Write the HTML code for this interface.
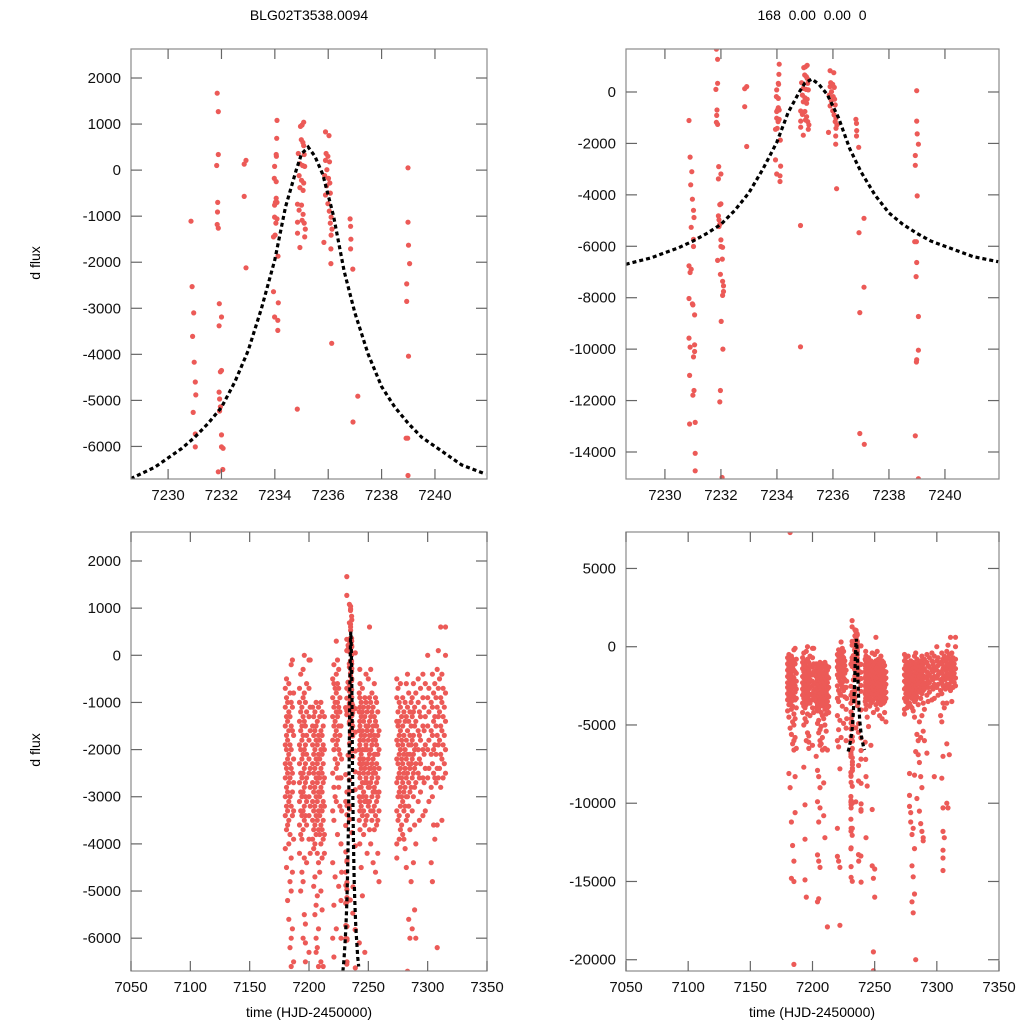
<!DOCTYPE html>
<html><head><meta charset="utf-8">
<style>
html,body{margin:0;padding:0;background:#fff;}
svg{display:block;font-family:"Liberation Sans",Arial,sans-serif;}
</style></head>
<body>
<svg id="chart" width="1024" height="1024" viewBox="0 0 1024 1024" xmlns="http://www.w3.org/2000/svg">
<rect width="1024" height="1024" fill="#fff"/>
<text x="309" y="20" font-size="14" text-anchor="middle">BLG02T3538.0094</text>
<text x="812" y="20" font-size="14" text-anchor="middle" xml:space="preserve">168  0.00  0.00  0</text>
<text x="0" y="0" font-size="14" text-anchor="middle" transform="translate(40,263) rotate(-90)">d flux</text>
<text x="0" y="0" font-size="14" text-anchor="middle" transform="translate(40,750) rotate(-90)">d flux</text>
<text x="309" y="1017" font-size="14" text-anchor="middle">time (HJD-2450000)</text>
<text x="812" y="1017" font-size="14" text-anchor="middle">time (HJD-2450000)</text>
</svg>
<script>
// ---- detailed observations near peak (time, flux) ----
const detT = [7230.86,7230.90,7230.96,7230.92,7230.98,7231.02,7231.04,7230.94,7231.02,7231.02,7230.86,7230.94,7230.90,7230.86,7230.98,7231.00,7231.06,7230.86,7230.90,7231.06,7231.06,7231.02,7230.88,7231.04,7231.00,7230.88,7231.08,7231.08,7231.08,
7231.84,7231.88,7231.88,7231.82,7231.86,7231.85,7231.84,7231.88,7231.92,7231.91,7232.00,7232.00,7231.96,7231.91,7231.93,7231.96,7231.93,7232.00,7232.00,7232.06,7232.05,7231.88,7231.98,7232.06,7232.09,7232.09,7232.06,7232.01,7232.07,7231.98,7231.96,7232.04,
7232.85,7232.92,7232.85,7232.92,
7234.08,7234.07,7234.05,7234.06,7233.99,7233.98,7234.05,7234.05,7234.02,7233.99,7234.08,7233.99,7234.08,7234.04,7233.95,7234.01,7234.12,7233.95,7233.99,7234.11,7234.11,7234.13,
7235.02,7235.08,7234.96,7234.99,7235.05,7235.08,7234.88,7235.10,7234.94,7235.04,7235.12,7234.91,7235.00,7235.08,7234.94,7235.06,7234.85,7235.00,7234.91,7235.06,7235.02,7234.85,7235.10,7235.14,7234.85,7235.12,7234.94,7234.84,7234.84,
7235.90,7236.03,7235.92,7235.99,7235.90,7236.05,7235.95,7235.87,7236.01,7235.94,7236.06,7236.08,7235.90,7235.99,7236.04,7236.11,7236.08,7236.14,7236.11,7235.84,7236.10,7236.10,7236.13,
7236.82,7236.84,7236.85,7236.84,7236.92,7236.93,7237.11,7237.11,7236.96,7236.96,7237.12,
7238.99,7238.99,7239.01,7239.05,7238.94,7238.94,7239.01,7238.92,7238.98,7238.99,7238.97,7239.05,7239.05,7238.99,7238.98,7238.94,7239.05];
const detV = [-1110,-2530,-3100,-3610,-4170,-4600,-4880,-5260,-5730,-6010,-6760,-6890,-7020,-8030,-8240,-8280,-8670,-9570,-9920,-9830,-10090,-10300,-11020,-11610,-11790,-12910,-12850,-14050,-14730,
1670,1270,340,100,-700,-910,-1180,-1260,-2900,-3380,-3190,-4350,-4380,-4820,-4970,-5140,-5230,-5750,-6010,-6040,-6500,-6550,-7090,-7360,-7540,-7760,-7910,-8920,-10000,-11610,-12050,-14990,
130,210,-570,-2120,
1080,690,340,300,80,-180,-250,-610,-700,-760,-700,-1020,-1060,-1150,-1450,-1410,-1870,-2640,-3190,-3260,-3480,-2880,
980,1040,950,660,600,530,360,340,140,100,80,-120,-220,-280,-380,-440,-740,-760,-870,-960,-1090,-1130,-1150,-1280,-1370,-1450,-1680,-5190,-9910,
830,750,360,300,210,180,10,-120,-180,-340,-280,-500,-540,-730,-890,-1020,-1150,-1280,-1410,-1570,-1710,-2030,-3760,
-1060,-1220,-1500,-1710,-2150,-5470,-4910,-7590,-8580,-13280,-13700,
50,-1130,-1630,-2030,-2470,-2850,-4040,-5820,-5820,-6630,-7180,-8730,-10040,-10410,-10500,-13370,-15040];

// ---- full-season observations, per night (night time, flux values) ----
const nightT = [7180,7181,7182,7183,7184,7185,7186,7187,
7192,7193,7194,7195,7196,7197,7198,7200,7201,
7203,7204,7205,7206,7207,7208,7209,7210,7211,7212,7213,
7220,7221,7222,7223,7224,7225,7226,7227,7227.5,
7242.4,7242.8,7243,7244,7245,7246,7247,7248,7249,7250,7251,7252,7253,7254,7255,7256,7257,7258,7259,
7274,7275,7276,7277,7278,7279,7280,7281,7282,7283,7284,7285,7286,7287,7288,7289,7290,7292,7293,7294,7296,7297,7298,7300,7301,7303,7304,7305,7306,7307,7308,7309,7310,7311,7312,7313,7314,7315];
const nightV = [
[-700,-1100,-1500,-1900,-2300,-2600,-3000,-3400,-4100],
[-500,-900,-1300,-1700,-2000,-2400,-2800,-3200,-3700,-4500,-8100],
[-1000,-1400,-1800,-2200,-2500,-2900,-3300,-3600,-5200,-9000,7300],
[-600,-1200,-1600,-2100,-2700,-3100,-3500,-4000,-5600,-11200,-14800],
[-800,-1300,-1900,-2300,-2600,-3000,-3800,-4800,-6200,-12700],
[-200,-1000,-1500,-2000,-2400,-3200,-4300,-5000,-6000,-6600,-13700,-15000,-20300],
[-100,-1100,-1600,-2500,-2900,-3400,-4600,-5800,-8300,-10600],
[-800,-1700,-2200,-2700,-3300,-3900,-6500],
[-700,-1000,-1400,-1900,-2300,-2700,-3100,-3600,-4200],
[-400,-1200,-1600,-2000,-2500,-2900,-3300,-3800,-5000,-7700],
[-1100,-1500,-1800,-2200,-2600,-3000,-3400,-3900,-4600,-10100,-12300,-14900],
[-300,-900,-1300,-1700,-2100,-2500,-2900,-3300,-3700,-4800,-6000,-16000],
[0,-800,-1400,-2000,-2400,-2800,-3200,-3500,-4300,-5500],
[-1000,-1500,-1900,-2300,-2700,-3000,-3400,-5700,-6100,-6500],
[-600,-1200,-1700,-2100,-2600,-3100,-3600,-4400],
[-100,-700,-1300,-1800,-2200,-2500,-3000,-3400,-3900,-6300],
[-100,-1100,-1600,-2400,-2800,-3200,-4200],
[-1100,-1500,-1900,-2300,-2700,-3100,-3500,-3900,-7000],
[-1300,-1700,-2100,-2500,-2900,-3300,-3700,-4100,-4900,-7900,-9900,-13300,-16300],
[-1200,-1600,-2000,-2400,-2800,-3200,-3600,-4000,-4700,-5500,-8300,-11200,-13700,-16100],
[-1000,-1500,-1800,-2200,-2600,-3000,-3400,-3800,-5300,-6000,-9000,-10300,-14100,-6300],
[-1400,-1900,-2300,-2700,-3100,-3500,-4200,-5100,-6200],
[-1100,-1700,-2100,-2500,-2900,-3300,-3700,-4400,-5800,-6600],
[-1300,-1800,-2200,-2600,-3000,-3400,-3800,-4600,-8700,-10800],
[-1000,-1600,-2000,-2400,-2800,-3200,-3600,-4000,-5000,-6500,-12200],
[-1200,-1700,-2100,-2500,-2900,-3300,-3700,-4300,-5400],
[-1500,-1900,-2300,-2700,-3100,-3500,-3900,-6600,-17900],
[-1300,-2000,-2600,-3200,-3800,-4200],
[-500,-900,-1300,-1800,-2500,-3300,-4400,-6000,-11600,-13400],
[-200,-600,-1100,-1500,-2000,-2800,-3500,-5300,-13700,-6400],
[-700,-1000,-1400,-1700,-2200,-3000,-4700,-7800,-14100,-17800],
[300,-400,-800,-1200,-1600,-1900,-2400,-3100,-5800],
[-100,-600,-1000,-1300,-1800,-2300,-2600,-3800],
[-300,-700,-1100,-1500,-2000,-2800,-4900],
[-900,-1200,-1700,-2100,-2600,-3200],
[-1500,-2600,-4000,-5200,-6000],
[-2200,-3300,-4600],
[-800,-1200,-1600,-2000,-2500,-3000,-3500,-6100],
[-300,-900,-1400,-1900,-2300,-2800,-3300,-4000,-7200],
[-600,-1100,-1500,-1800,-2200,-2600,-3100,-3700,-8300,-12200],
[-1000,-1300,-1700,-2100,-2400,-2800,-3200,-4500,-8900],
[-700,-1200,-1600,-2000,-2300,-2700,-3000,-3400,-5100],
[-1100,-1400,-1800,-2200,-2500,-2900,-3300,-3800],
[-900,-1300,-1700,-2000,-2400,-2700,-3100,-3600,-6300],
[-400,-1000,-1500,-1900,-2300,-2600,-3000,-3500,-10400,-14000],
[-1200,-1600,-2000,-2300,-2700,-3100,-3400,-4200,-14800,-19500,-20700],
[-500,-1100,-1500,-1800,-2200,-2500,-2800,-3200,-16000,-14200],
[600,-900,-1400,-1700,-2100,-2400,-2800,-3100,-3700],
[-300,-1000,-1300,-1700,-2000,-2400,-2700,-3300,-4000],
[-800,-1200,-1600,-1900,-2300,-2600,-3000,-3500],
[-1100,-1500,-1800,-2200,-2500,-2900,-3300,-4400],
[-600,-1300,-1700,-2100,-2400,-2800,-3200,-3700],
[-900,-1400,-1800,-2100,-2500,-2900,-3400,-4600],
[-1000,-1500,-1900,-2300,-2700,-3100,-3600],
[-1200,-1700,-2100,-2600,-3000,-3500,-4200],
[-1600,-2000,-2400,-2900,-3300,-4800],
[-500,-900,-1400,-1800,-2200,-2700,-3300,-4000,-4300],
[-700,-1200,-1500,-1900,-2300,-2600,-3000,-3500],
[-1000,-1400,-1700,-2100,-2500,-2900,-3400,-3900],
[-600,-1100,-1600,-2000,-2400,-2800,-3200,-3700],
[-1300,-1800,-2200,-2600,-3000,-3600,-8100,-9500,-10200],
[-900,-1500,-1900,-2300,-2700,-3100,-3800,-10600,-11200],
[-1200,-1700,-2100,-2500,-2900,-3300,-3900,-12000,-14000,-16300],
[-1000,-1400,-2000,-2400,-2800,-3200,-4100,-11600,-14700,-17000],
[-600,-1300,-1800,-2200,-2600,-3000,-3500,-4500,-8200,-12900,-15800],
[-400,-1100,-1600,-2100,-2500,-3000,-3400,-20000,-6700],
[-800,-1400,-1900,-2300,-2700,-3200,-5600,-9700],
[-1200,-1700,-2100,-2400,-2900,-3700,-6000,-6900],
[-1000,-1500,-1900,-2300,-2800,-4800,-7400,-10500],
[-900,-1300,-1800,-2200,-2600,-3300,-5800,-8300,-11300],
[-600,-1200,-1700,-2100,-2500,-3000,-4400,-9000,-11800],
[-1100,-1500,-2000,-2400,-2800,-3600,-5400,-12200,-12400],
[-800,-1400,-1900,-2300,-2700,-4000,-6000],
[-500,-1000,-1600,-2000,-2500,-3100,-6800],
[-1200,-1700,-2200,-2600,-3500],
[-700,-1300,-1800,-2300,-2900],
[-400,-900,-1500,-2000,-2600,-3400],
[-1100,-1600,-2100,-2700],
[-600,-1300,-1900,-2400,-3300,-8300],
[0,-900,-1500,-2000,-2600],
[-700,-1200,-1800,-2400,-3100],
[-1000,-1600,-2100,-2800,-4400],
[-400,-1100,-1700,-2300,-3000,-4800,-8400],
[-800,-1400,-2000,-2500,-3600,-7000,-10300,-11800,-13000,-13500,-14300],
[-600,-1300,-1900,-2600,-3900,-12200],
[-900,-1500,-2100,-2700],
[-300,-1100,-1700,-2400,-3600,-6200,-10000],
[100,-700,-1300,-1900,-2600,-10300],
[-500,-1200,-1800,-2400,-6900],
[600,-900,-1500,-2100,-2800],
[-400,-1000,-1600,-2200,-3500],
[-700,-1300,-1900,-2600],
[-1100,-1700,-2300],
[600,0,-800,-1400,-2000,-2500]];

// ---- model curve samples ----
const modelT = [7228.6,7229.5,7230.5,7231.0,7231.5,7232.0,7232.5,7233.0,7233.5,7234.0,7234.4,7234.8,7235.0,7235.25,7235.5,7235.8,7236.2,7236.6,7237.0,7237.5,7238.0,7238.5,7239.0,7239.5,7240.0,7240.5,7241.0,7241.9];
const modelV = [-6700,-6450,-6050,-5800,-5500,-5150,-4600,-3920,-3000,-1950,-800,0,350,500,300,-100,-1000,-2200,-3100,-4000,-4700,-5150,-5500,-5800,-6000,-6200,-6400,-6600];

// ---- tick labels ----
const ticksXZoom = [7230,7232,7234,7236,7238,7240];
const ticksXFull = [7050,7100,7150,7200,7250,7300,7350];
const ticksYTL = [2000,1000,0,-1000,-2000,-3000,-4000,-5000,-6000];
const ticksYTR = [0,-2000,-4000,-6000,-8000,-10000,-12000,-14000];
const ticksYBL = [2000,1000,0,-1000,-2000,-3000,-4000,-5000,-6000];
const ticksYBR = [5000,0,-5000,-10000,-15000,-20000];

const svg = document.getElementById('chart');
const NS = 'http://www.w3.org/2000/svg';
function mk(tag, attrs, parent){
  const e = document.createElementNS(NS, tag);
  for (const k in attrs) e.setAttribute(k, attrs[k]);
  (parent||svg).appendChild(e);
  return e;
}

const allT = [], allV = [];
for (let i=0;i<detT.length;i++){ allT.push(detT[i]); allV.push(detV[i]); }
for (let i=0;i<nightT.length;i++){ for (const v of nightV[i]) { allT.push(nightT[i]); allV.push(v); } }

const panels = [
  {id:'tl', x0:131,x1:487,y0:49,y1:479, xd:[7228.61,7241.95], yd:[2630,-6707], xt:ticksXZoom, yt:ticksYTL, r:2.6},
  {id:'tr', x0:626,x1:999,y0:49,y1:479, xd:[7228.61,7241.93], yd:[1672,-15050], xt:ticksXZoom, yt:ticksYTR, r:2.6},
  {id:'bl', x0:131,x1:487,y0:532,y1:971, xd:[7050,7350], yd:[2615,-6696], xt:ticksXFull, yt:ticksYBL, r:2.6},
  {id:'br', x0:626,x1:999,y0:532,y1:971, xd:[7050,7350], yd:[7330,-20720], xt:ticksXFull, yt:ticksYBR, r:2.6}
];

panels.forEach(p=>{
  const sx = t => p.x0 + (t-p.xd[0])/(p.xd[1]-p.xd[0])*(p.x1-p.x0);
  const sy = v => p.y0 + (p.yd[0]-v)/(p.yd[0]-p.yd[1])*(p.y1-p.y0);
  const g = mk('g', {});
  
  
  const cp = mk('clipPath', {id:'clip-'+p.id}, g);
  mk('rect', {x:p.x0, y:p.y0, width:p.x1-p.x0, height:p.y1-p.y0}, cp);

  const pts = mk('g', {'clip-path':'url(#clip-'+p.id+')', fill:'#ec5a57'}, g);
  
  
  for (let i=0;i<allT.length;i++){
    const x = sx(allT[i]), y = sy(allV[i]);
    if (x < p.x0-4 || x > p.x1+4 || y < p.y0-4 || y > p.y1+4) continue;
    const c = mk('circle', {cx:x.toFixed(1), cy:y.toFixed(1), r:p.r}, pts);
    
    
  }
  let d = '';
  modelT.forEach((t,i)=>{ d += (i?'L':'M') + sx(t).toFixed(1)+','+sy(modelV[i]).toFixed(1); });
  const ml = mk('path', {d:d, fill:'none', stroke:'#000', 'stroke-width':3.2, 'stroke-dasharray':'4,3', 'clip-path':'url(#clip-'+p.id+')'}, g);
  
  

  const fr = mk('rect', {x:p.x0, y:p.y0, width:p.x1-p.x0, height:p.y1-p.y0, fill:'none', stroke:'#8a8a8a', 'stroke-width':1.2}, g);
  
  

  p.xt.forEach(t=>{
    const x = sx(t);
    mk('line', {x1:x,x2:x,y1:p.y1,y2:p.y1-10,stroke:'#666','stroke-width':1.2}, g);
    mk('line', {x1:x,x2:x,y1:p.y0,y2:p.y0+10,stroke:'#666','stroke-width':1.2}, g);
    const tx = mk('text', {x:x, y:p.y1+21, 'font-size':15, 'text-anchor':'middle', fill:'#111'}, g);
    tx.textContent = t;
    
    
  });
  p.yt.forEach(v=>{
    const y = sy(v);
    mk('line', {x1:p.x0,x2:p.x0+11,y1:y,y2:y,stroke:'#666','stroke-width':1.2}, g);
    mk('line', {x1:p.x1,x2:p.x1-11,y1:y,y2:y,stroke:'#666','stroke-width':1.2}, g);
    const ty = mk('text', {x:p.x0-10, y:y+5, 'font-size':15, 'text-anchor':'end', fill:'#111'}, g);
    ty.textContent = v;
    
    
  });
});
</script>
</body></html>
